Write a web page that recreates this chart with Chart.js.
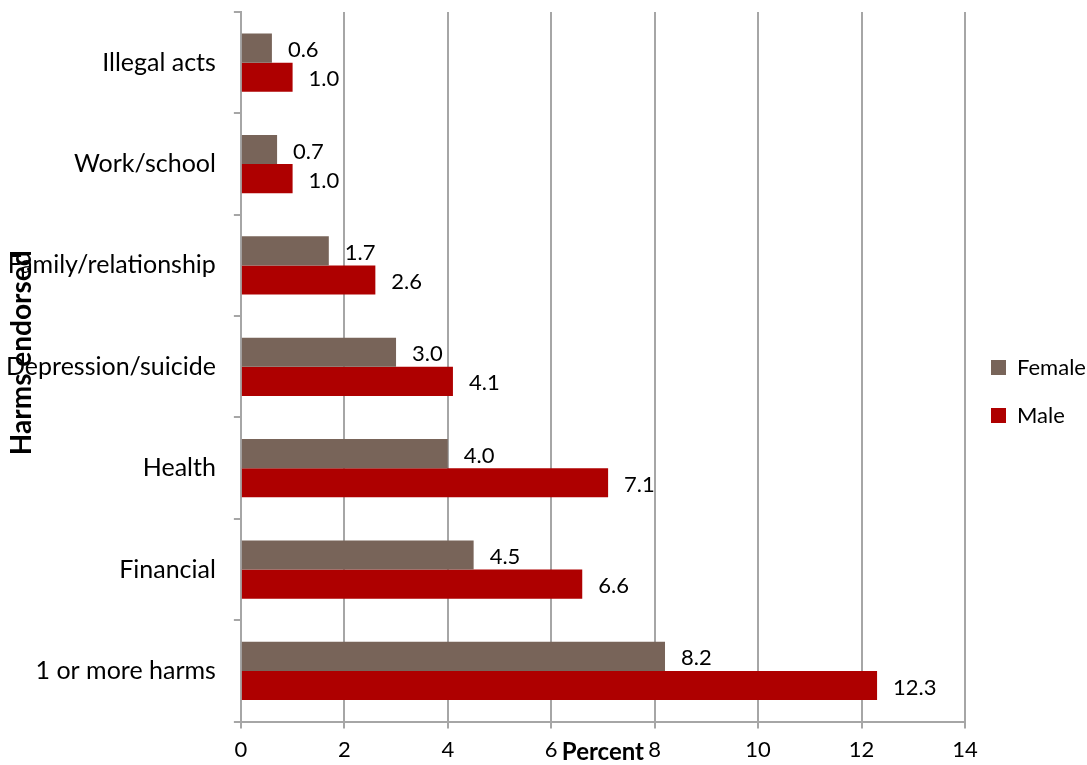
<!DOCTYPE html>
<html>
<head>
<meta charset="utf-8">
<script src="https://cdn.jsdelivr.net/npm/chart.js@4.4.1/dist/chart.umd.min.js"></script>
<style>
  html, body { margin: 0; padding: 0; background: #fff; }
  #wrap { width: 1087px; height: 765px; position: relative; }
</style>
</head>
<body>
<div id="wrap"><canvas id="myChart"></canvas></div>
<script>
const categories = ['Illegal acts', 'Work/school', 'Family/relationship', 'Depression/suicide', 'Health', 'Financial', '1 or more harms'];
const femaleValues = [0.6, 0.7, 1.7, 3.0, 4.0, 4.5, 8.2];
const maleValues = [1.0, 1.0, 2.6, 4.1, 7.1, 6.6, 12.3];
const xTicks = [0, 2, 4, 6, 8, 10, 12, 14];

const FONT = 'Lato, "Open Sans", sans-serif';

// value labels next to each bar end
const barLabels = {
    id: 'barLabels',
    afterDatasetsDraw(chart) {
        const ctx = chart.ctx;
        ctx.save();
        ctx.font = '22px ' + FONT;
        ctx.fillStyle = '#000';
        ctx.textAlign = 'left';
        ctx.textBaseline = 'middle';
        chart.data.datasets.forEach((ds, i) => {
            chart.getDatasetMeta(i).data.forEach((bar, j) => {
                ctx.fillText(ds.data[j].toFixed(1), bar.x + 16, bar.y + 2);
            });
        });
        ctx.restore();
    }
};

// axis titles drawn on top of the tick labels, as in the original
const axisTitles = {
    id: 'axisTitles',
    afterDraw(chart) {
        const ctx = chart.ctx;
        const area = chart.chartArea;
        ctx.save();
        ctx.font = 'bold 24px ' + FONT;
        ctx.fillStyle = '#000';
        ctx.textAlign = 'center';
        ctx.textBaseline = 'middle';
        ctx.fillText('Percent', (area.left + area.right) / 2, area.bottom + 31);
        ctx.font = 'bold 28px ' + FONT;
        ctx.translate(22, (area.top + area.bottom) / 2 - 14);
        ctx.rotate(-Math.PI / 2);
        ctx.fillText('Harms endorsed', 0, 0);
        ctx.restore();
    }
};

const ctx = document.getElementById('myChart').getContext('2d');
const chart = new Chart(ctx, {
    type: 'bar',
    data: {
        labels: categories,
        datasets: [{
            label: 'Female',
            data: femaleValues,
            backgroundColor: '#786459',
            categoryPercentage: 0.574,
            barPercentage: 1.0
        }, {
            label: 'Male',
            data: maleValues,
            backgroundColor: '#ae0000',
            categoryPercentage: 0.574,
            barPercentage: 1.0
        }]
    },
    options: {
        indexAxis: 'y',
        responsive: true,
        maintainAspectRatio: false,
        animation: false,
        layout: { padding: { left: -12, top: 12, right: 0, bottom: -6 } },
        scales: {
            x: {
                min: 0,
                max: 14,
                afterBuildTicks: axis => { axis.ticks = xTicks.map(v => ({ value: v })); },
                grid: { color: '#a6a6a6', lineWidth: 2, tickLength: 7 },
                border: { color: '#a6a6a6', width: 2 },
                ticks: { font: { family: FONT, size: 22 }, color: '#000', padding: 8 }
            },
            y: {
                afterFit: axis => { axis.paddingTop = 0; axis.paddingBottom = 0; },
                grid: { drawOnChartArea: false, color: '#a6a6a6', lineWidth: 2, tickLength: 7, offset: true },
                border: { color: '#a6a6a6', width: 2 },
                ticks: { font: { family: FONT, size: 25 }, color: '#000', padding: 18 }
            }
        },
        plugins: {
            legend: {
                position: 'right',
                maxWidth: 122,
                labels: {
                    font: { family: FONT, size: 22 },
                    color: '#000',
                    boxWidth: 15,
                    boxHeight: 15,
                    padding: 26
                }
            },
            tooltip: { enabled: false }
        }
    },
    plugins: [barLabels, axisTitles]
});
</script>
</body>
</html>
